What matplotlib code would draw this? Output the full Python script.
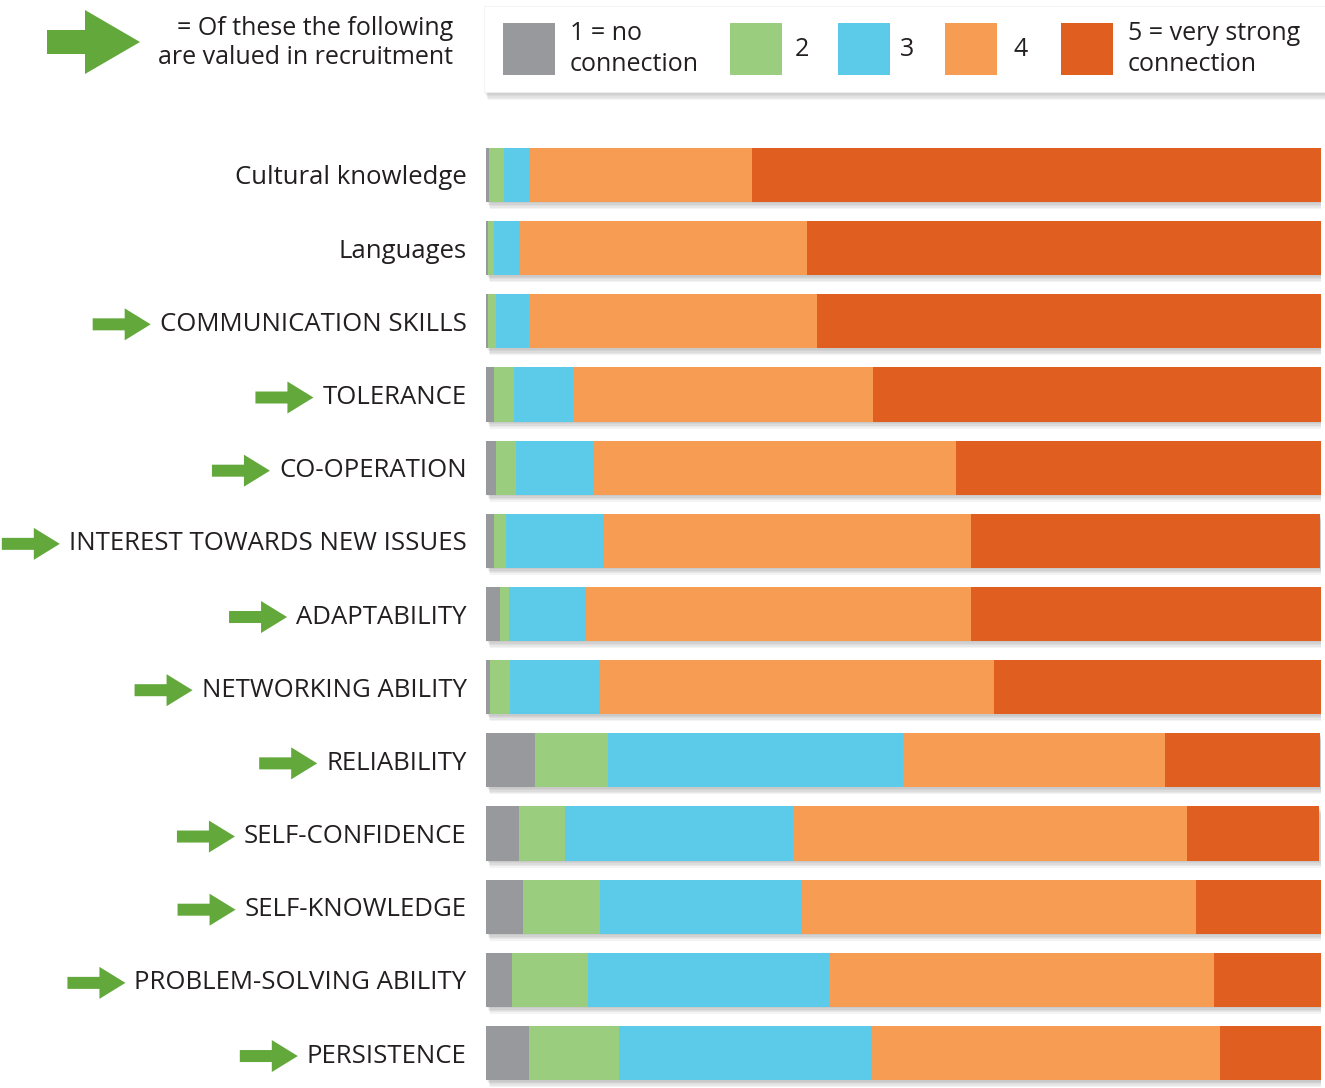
import matplotlib
matplotlib.use('Agg')
import matplotlib.pyplot as plt
import matplotlib.patheffects as pe
from matplotlib.patches import Polygon, Rectangle

plt.rcParams['font.family'] = ['Open Sans', 'DejaVu Sans']

# data (percent of answers per level)
labels = ['Cultural knowledge', 'Languages', 'COMMUNICATION SKILLS', 'TOLERANCE',
          'CO-OPERATION', 'INTEREST TOWARDS NEW ISSUES', 'ADAPTABILITY',
          'NETWORKING ABILITY', 'RELIABILITY', 'SELF-CONFIDENCE', 'SELF-KNOWLEDGE',
          'PROBLEM-SOLVING ABILITY', 'PERSISTENCE']
valued = [False, False, True, True, True, True, True, True, True, True, True, True, True]
lvl1 = [0.4, 0.2, 0.2, 1.0, 1.2, 1.0, 1.7, 0.5, 5.9, 4.0, 4.4, 3.1, 5.1]
lvl2 = [1.7, 0.8, 1.0, 2.4, 2.4, 1.4, 1.0, 2.4, 8.7, 5.5, 9.2, 9.1, 10.8]
lvl3 = [3.2, 3.1, 4.0, 7.1, 9.3, 11.7, 9.3, 10.8, 35.3, 27.3, 24.3, 28.9, 30.3]
lvl4 = [26.5, 34.4, 34.5, 35.8, 43.4, 44.0, 46.1, 47.1, 31.4, 47.1, 47.1, 46.1, 41.7]
lvl5 = [68.3, 61.5, 60.3, 53.7, 43.8, 41.8, 42.0, 39.4, 18.6, 15.9, 15.1, 12.9, 12.2]
levels = [lvl1, lvl2, lvl3, lvl4, lvl5]
legend_labels = ['1 = no\nconnection', '2', '3', '4', '5 = very strong\nconnection']
colors = ['#98999d', '#9bcd7e', '#5bcbe9', '#f79c53', '#e05e20']
arrow_green = '#62a83b'
text_color = '#231f20'

W, H = 1325, 1088
fig = plt.figure(figsize=(W / 100, H / 100), dpi=100)

# overlay axes in pixel coordinates for arrows / legend
ov = fig.add_axes([0, 0, 1, 1], zorder=0)
ov.set_xlim(0, W)
ov.set_ylim(H, 0)
ov.axis('off')

# bar axes
y0, step = 175, 73.17
top = y0 - step / 2
height = step * 13
ax = fig.add_axes([486 / W, 1 - (top + height) / H, 835 / W, height / H], zorder=1)
ax.patch.set_alpha(0)

# soft drop shadow made of a few faint offset copies
soft = [pe.SimplePatchShadow(offset=(d * 0.6, -d), shadow_rgbFace='#555555', alpha=0.07)
        for d in (1, 2, 3, 4, 5)]
shadow = soft + [pe.Normal()]

ypos = list(range(len(labels)))
left = [0] * len(labels)
for vals, c in zip(levels, colors):
    bars = ax.barh(ypos, vals, left=left, height=0.74, color=c, edgecolor='none')
    for b in bars:
        b.set_path_effects(shadow)
    left = [l + v for l, v in zip(left, vals)]

ax.set_xlim(0, 100)
ax.set_ylim(12.5, -0.5)
ax.set_yticks(ypos)
ax.set_yticklabels(labels, fontsize=18.5, color=text_color)
ax.tick_params(axis='y', length=0, pad=14)
ax.set_xticks([])
for s in ax.spines.values():
    s.set_visible(False)


def arrow(x0, x1, yc, shaft, head, hlen):
    pts = [(x0, yc - shaft / 2), (x1 - hlen, yc - shaft / 2), (x1 - hlen, yc - head / 2),
           (x1, yc), (x1 - hlen, yc + head / 2), (x1 - hlen, yc + shaft / 2), (x0, yc + shaft / 2)]
    ov.add_patch(Polygon(pts, closed=True, facecolor=arrow_green, edgecolor='none'))


# arrows next to valued labels
fig.canvas.draw()
inv = ov.transData.inverted()
for lab, flag in zip(ax.get_yticklabels(), valued):
    if not flag:
        continue
    bb = lab.get_window_extent()
    xl, yc = inv.transform((bb.x0, (bb.y0 + bb.y1) / 2))
    arrow(xl - 67, xl - 9, yc, 12, 32, 26)

# explanation in top left
arrow(47, 140, 42, 24, 64, 55)
ov.text(453, 43, '= Of these the following\nare valued in recruitment', ha='right', va='center',
        fontsize=18, color=text_color, linespacing=1.2)

# legend box
box = Rectangle((484, 6), 850, 86, facecolor='white', edgecolor='#f0f0f0', lw=0.5)
box.set_path_effects([pe.SimplePatchShadow(offset=(d * 0.5, -d), shadow_rgbFace='#555555', alpha=0.06)
                      for d in (1, 2, 3, 4, 5, 6)] + [pe.Normal()])
ov.add_patch(box)
sq_x = [503, 730, 838, 945, 1061]
txt_x = [570, 795, 900, 1013, 1128]
for sx, tx, c, lab in zip(sq_x, txt_x, colors, legend_labels):
    ov.add_patch(Rectangle((sx, 23), 52, 52, facecolor=c, edgecolor='none'))
    ov.text(tx, 49, lab, ha='left', va='center', fontsize=18, color=text_color, linespacing=1.35)

fig.savefig('out.png', dpi=100, facecolor='white')
